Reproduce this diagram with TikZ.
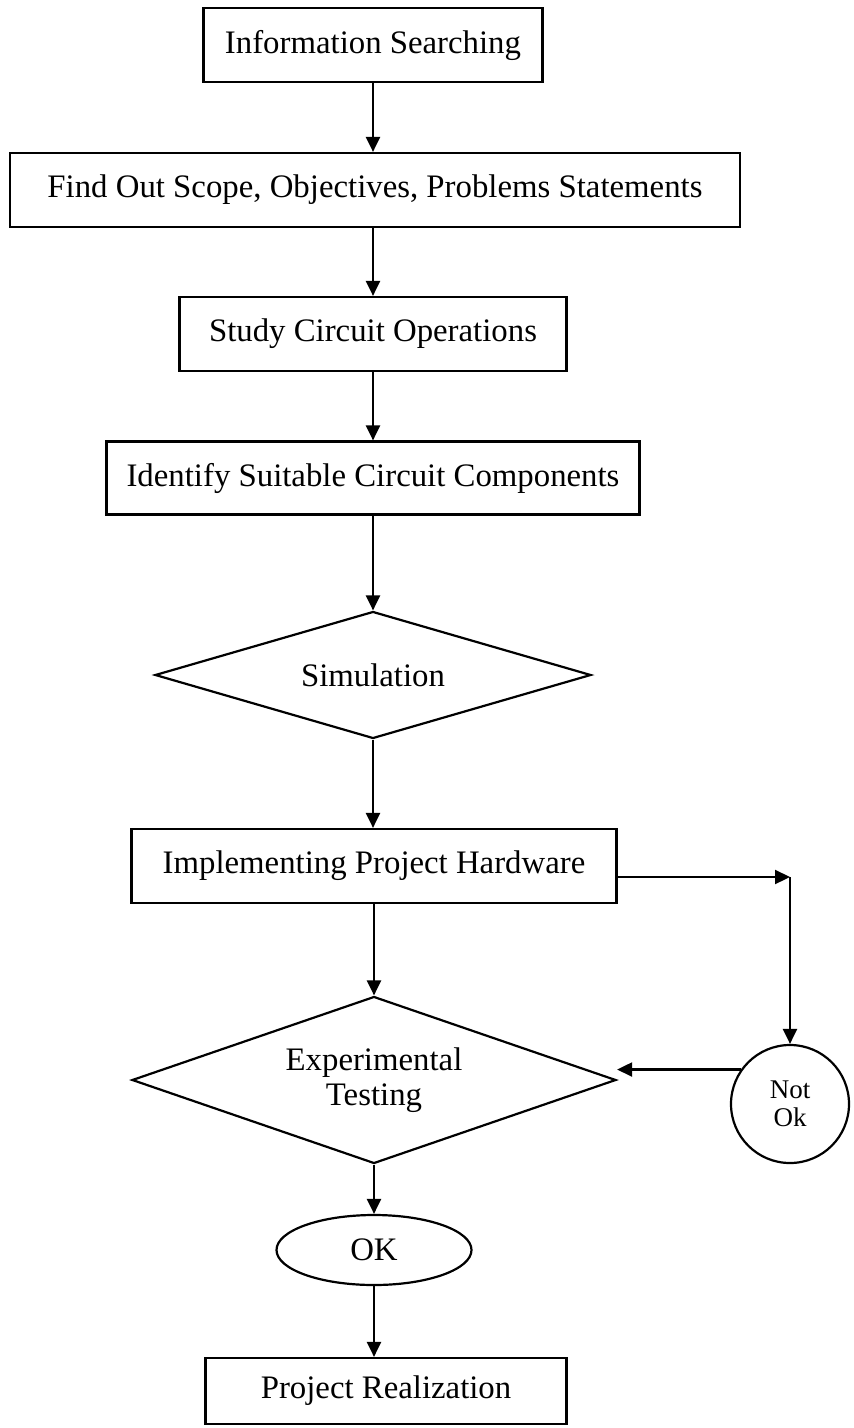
\documentclass[tikz,border=0pt]{standalone}
\usepackage{fontspec}
\setmainfont{Liberation Serif}
\usetikzlibrary{shapes.geometric,arrows.meta}
\tikzset{
    stepbox/.style={draw,line width=1.1pt,rectangle,inner sep=0pt,font=\fontsize{16.4}{19}\selectfont},
    decision/.style={draw,line width=1.1pt,diamond,aspect=3,inner sep=0pt,align=center,font=\fontsize{16.4}{17.5}\selectfont},
    flow/.style={line width=1.1pt,-{Triangle[length=7.5pt,width=7pt]}}
}
\begin{document}
\begin{tikzpicture}[x=0.5pt,y=-0.5pt]
    \useasboundingbox (0,0) rectangle (853,1428);
    % steps
    \node[stepbox,minimum width=169.5pt,minimum height=37pt] (info) at (373,45) {Information Searching};
    \node[stepbox,minimum width=365pt,minimum height=37pt] (scope) at (375,190) {Find Out Scope, Objectives, Problems Statements};
    \node[stepbox,minimum width=193.5pt,minimum height=37pt] (study) at (373,334) {Study Circuit Operations};
    \node[stepbox,minimum width=266.5pt,minimum height=36.5pt] (ident) at (373,478) {Identify Suitable Circuit Components};
    \node[decision,minimum width=218pt,minimum height=63.5pt] (sim) at (373,675) {Simulation};
    \node[stepbox,minimum width=242.5pt,minimum height=37pt] (hw) at (374,866) {Implementing Project Hardware};
    \node[decision,minimum width=242pt,minimum height=83.5pt] (test) at (374,1080) {Experimental\\Testing};
    \node[draw,line width=1.1pt,circle,minimum size=59pt,inner sep=0pt,align=center,font=\fontsize{13.5}{14}\selectfont] (notok) at (790,1104) {Not\\Ok};
    \node[draw,line width=1.1pt,ellipse,minimum width=97.5pt,minimum height=35pt,inner sep=0pt,font=\fontsize{16.4}{19}\selectfont] (ok) at (374,1250) {OK};
    \node[stepbox,minimum width=180.5pt,minimum height=33pt] (real) at (386,1391) {Project Realization};
    \coordinate (corner) at (790,877);
    % arrows
    \draw[flow] (info) -- (info |- scope.north);
    \draw[flow] (study |- scope.south) -- (study);
    \draw[flow] (study) -- (ident);
    \draw[flow] (ident) -- (sim);
    \draw[flow] (sim) -- (sim |- hw.north);
    \draw[flow] (hw) -- (test);
    \draw[flow] (test) -- (ok);
    \draw[flow] (ok.south) -- (ok.south |- real.north);
    % not ok loop
    \draw[flow] (hw.east |- corner) -- (corner);
    \draw[flow] (corner) -- (notok);
    \draw[flow] (notok.145) -- (notok.145 -| test.east);
\end{tikzpicture}
\end{document}
